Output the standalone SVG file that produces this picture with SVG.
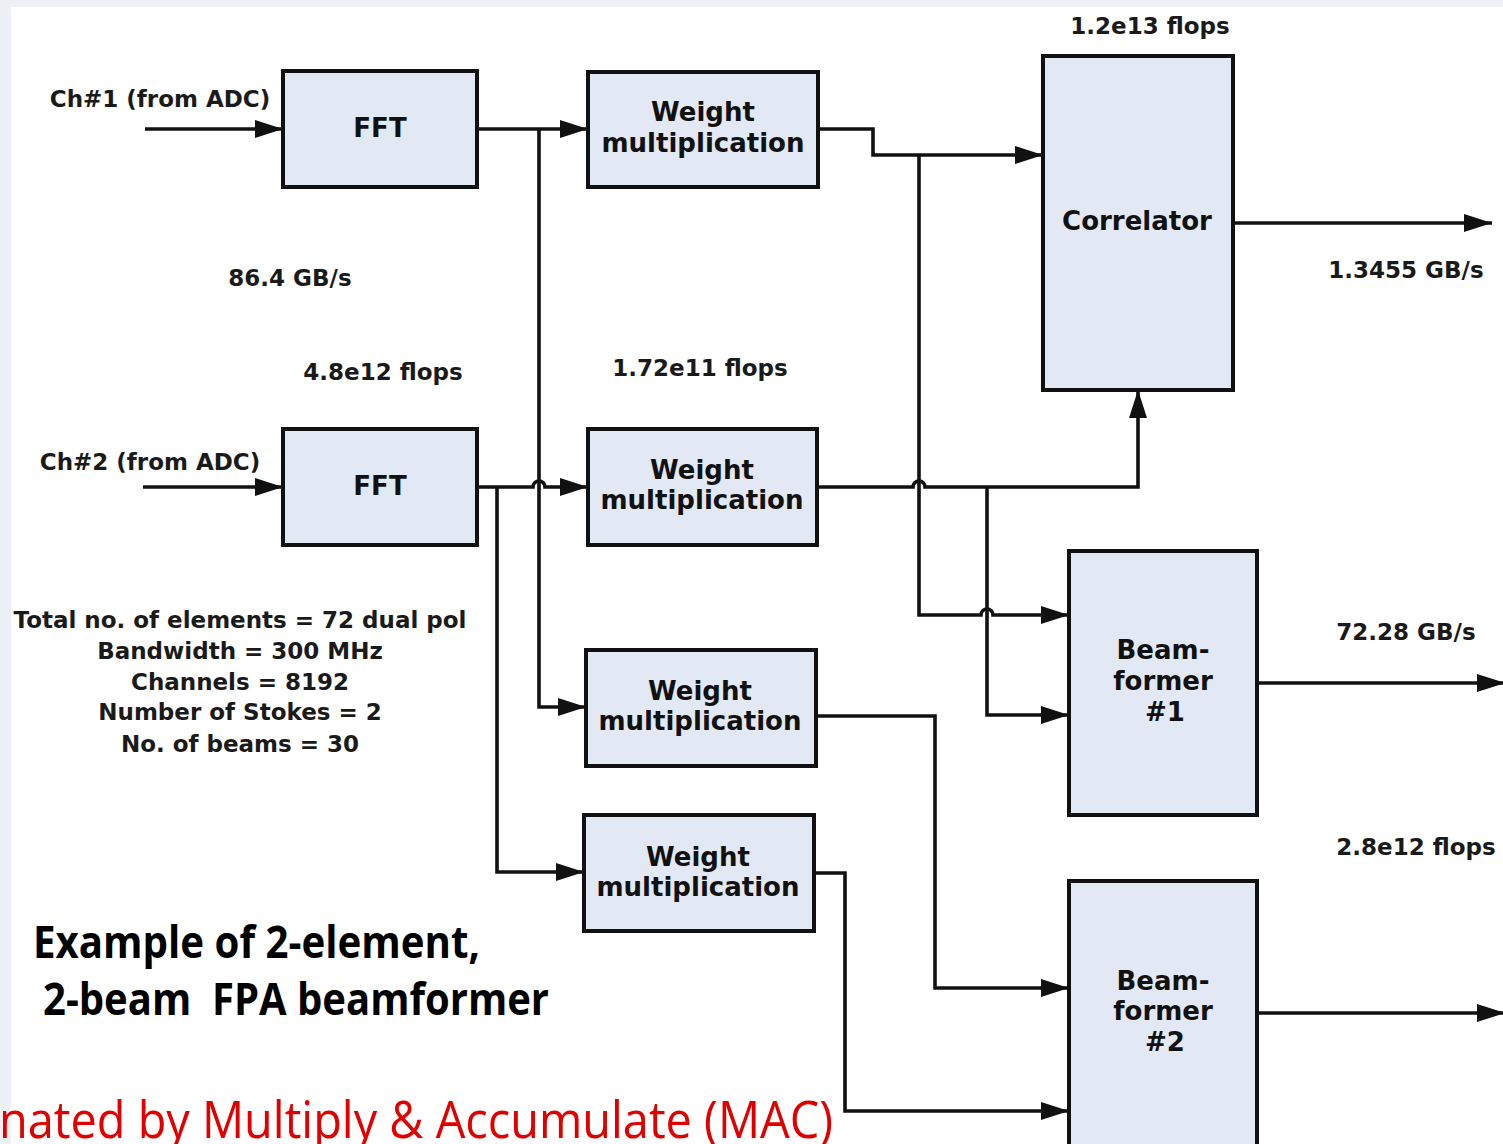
<svg xmlns="http://www.w3.org/2000/svg" width="1503" height="1144" viewBox="0 0 1503 1144">
<style>
.box{fill:#e2e9f4;stroke:#111;stroke-width:4}
.lbl{font-family:"DejaVu Sans",Verdana,sans-serif;font-weight:bold;font-size:26px;fill:#111;text-anchor:middle}
.ann{font-family:"DejaVu Sans",Verdana,sans-serif;font-weight:bold;font-size:23px;fill:#1a1a1a;text-anchor:middle}
.wire{fill:none;stroke:#111;stroke-width:3.6}
.arr{marker-end:url(#ah)}
.big{font-family:"Open Sans","Liberation Sans",sans-serif;font-weight:bold;font-size:44px;fill:#000;white-space:pre}
.red{font-family:"Open Sans","Liberation Sans",sans-serif;font-size:52px;fill:#e00000}
</style>
<defs>
<marker id="ah" markerUnits="userSpaceOnUse" markerWidth="28" markerHeight="18" refX="28" refY="9" orient="auto">
<path d="M0,0 L28,9 L0,18 z" fill="#111"/>
</marker>
</defs>
<rect x="0" y="0" width="1503" height="1144" fill="#edf1f6"/>
<rect x="11" y="7" width="1492" height="1137" fill="#ffffff"/>

<g id="connectors">
<path class="wire arr" d="M145,129 H283"/>
<path class="wire arr" d="M143,487 H283"/>
<path class="wire arr" d="M477,129 H588"/>
<path class="wire arr" d="M539,129 V707 H586"/>
<path class="wire arr" d="M477,487 H533 A6,6 0 0 1 545,487 H588"/>
<path class="wire arr" d="M497,487 V872 H584"/>
<path class="wire arr" d="M818,129 H873 V155 H1043"/>
<path class="wire arr" d="M919,155 V615 H981 A6,6 0 0 1 993,615 H1069"/>
<path class="wire arr" d="M817,487 H913 A6,6 0 0 1 925,487 H1138 V390"/>
<path class="wire arr" d="M987,487 V715 H1069"/>
<path class="wire arr" d="M816,716 H935 V988 H1069"/>
<path class="wire arr" d="M814,873 H845 V1111 H1069"/>
<path class="wire arr" d="M1233,223 H1492"/>
<path class="wire arr" d="M1257,683 H1505"/>
<path class="wire arr" d="M1257,1013 H1505"/>
</g>

<g id="fft1"><rect class="box" x="283" y="71" width="194" height="116"/><text class="lbl" x="380" y="137">FFT</text></g>
<g id="fft2"><rect class="box" x="283" y="429" width="194" height="116"/><text class="lbl" x="380" y="495">FFT</text></g>
<g id="wm1"><rect class="box" x="588" y="72" width="230" height="115"/><text class="lbl" x="703" y="121">Weight</text><text class="lbl" x="703" y="152">multiplication</text></g>
<g id="wm2"><rect class="box" x="588" y="429" width="229" height="116"/><text class="lbl" x="702" y="479">Weight</text><text class="lbl" x="702" y="509">multiplication</text></g>
<g id="wm3"><rect class="box" x="586" y="650" width="230" height="116"/><text class="lbl" x="700" y="700">Weight</text><text class="lbl" x="700" y="730">multiplication</text></g>
<g id="wm4"><rect class="box" x="584" y="815" width="230" height="116"/><text class="lbl" x="698" y="866">Weight</text><text class="lbl" x="698" y="896">multiplication</text></g>
<g id="correlator"><rect class="box" x="1043" y="56" width="190" height="334"/><text class="lbl" x="1137" y="230">Correlator</text></g>
<g id="bf1"><rect class="box" x="1069" y="551" width="188" height="264"/><text class="lbl" x="1163" y="659">Beam-</text><text class="lbl" x="1163" y="690">former</text><text class="lbl" x="1165" y="721">#1</text></g>
<g id="bf2"><rect class="box" x="1069" y="881" width="188" height="275"/><text class="lbl" x="1163" y="990">Beam-</text><text class="lbl" x="1163" y="1020">former</text><text class="lbl" x="1165" y="1051">#2</text></g>

<g id="labels">
<text class="ann" x="1150" y="34">1.2e13 flops</text>
<text class="ann" x="160" y="107">Ch#1 (from ADC)</text>
<text class="ann" x="290" y="286">86.4 GB/s</text>
<text class="ann" x="383" y="380">4.8e12 flops</text>
<text class="ann" x="700" y="376">1.72e11 flops</text>
<text class="ann" x="1406" y="278">1.3455 GB/s</text>
<text class="ann" x="150" y="470">Ch#2 (from ADC)</text>
<text class="ann" x="240" y="628">Total no. of elements = 72 dual pol</text>
<text class="ann" x="240" y="659">Bandwidth = 300 MHz</text>
<text class="ann" x="240" y="690">Channels = 8192</text>
<text class="ann" x="240" y="720">Number of Stokes = 2</text>
<text class="ann" x="240" y="752">No. of beams = 30</text>
<text class="ann" x="1406" y="640">72.28 GB/s</text>
<text class="ann" x="1416" y="855">2.8e12 flops</text>
<text class="big" x="33" y="958" textLength="447" lengthAdjust="spacingAndGlyphs">Example of 2-element,</text>
<text class="big" x="43" y="1015" textLength="506" lengthAdjust="spacingAndGlyphs">2-beam  FPA beamformer</text>
<text class="red" x="-1" y="1138" textLength="834" lengthAdjust="spacingAndGlyphs">nated by Multiply &amp; Accumulate (MAC)</text>
</g>
</svg>
